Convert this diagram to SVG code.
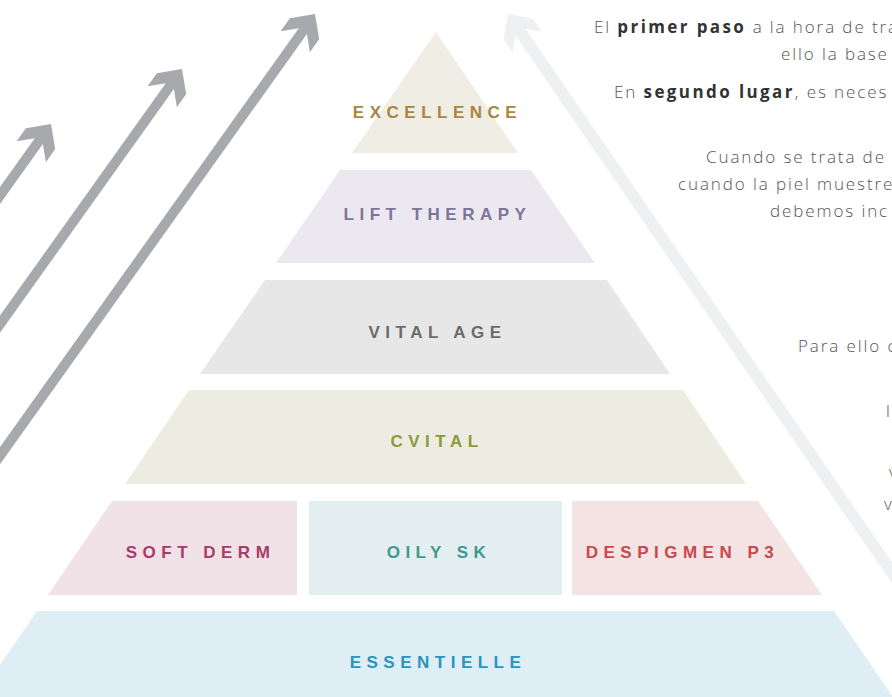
<svg xmlns="http://www.w3.org/2000/svg" width="892" height="697" viewBox="0 0 892 697">
<style>
.lbl{font-family:"Liberation Sans",Arial,sans-serif;font-weight:bold;font-size:17px;letter-spacing:5.5px;text-anchor:middle}
.body{font-family:"Open Sans","Noto Sans",sans-serif;font-weight:300;font-size:17px;letter-spacing:1.9px;fill:#555557}
.body tspan.b{font-weight:bold;fill:#333335;letter-spacing:2.4px}
.garrow{fill:#A7A9AC}
.larrow{fill:#EFF0F2}
</style>
<defs>
<path id="arr" d="M0,0 L18,18 L18,34 L5,21 L5,700 L-5,700 L-5,21 L-18,34 L-18,18 Z"/>
<path id="arrL" d="M0,0 L18,18 L18,34 L6,22 L6,700 L-6,700 L-6,22 L-18,34 L-18,18 Z"/>
<clipPath id="c1"><rect x="-30" y="-5" width="60" height="590"/></clipPath>
<clipPath id="c2"><rect x="-30" y="-5" width="60" height="350"/></clipPath>
<clipPath id="c3"><rect x="-30" y="-5" width="60" height="140"/></clipPath>
</defs>
<rect width="892" height="697" fill="#FFFFFF"/>
<g id="arrows">
<g transform="translate(315,14) rotate(35.5)" clip-path="url(#c1)"><use href="#arr" class="garrow"/></g>
<g transform="translate(182,69) rotate(35.5)" clip-path="url(#c2)"><use href="#arr" class="garrow"/></g>
<g transform="translate(51,124) rotate(35.5)" clip-path="url(#c3)"><use href="#arr" class="garrow"/></g>
<g transform="translate(508,14) rotate(-34.5)"><use href="#arrL" class="larrow"/></g>
</g>
<g id="excellence">
<path d="M436,32 L518,153 L352,153 Z" fill="#F0EDE4"/>
<text class="lbl" x="437.5" y="117.5" fill="#A7873F">EXCELLENCE</text>
</g>
<g id="lift-therapy">
<path d="M340,170 L531,170 L595,263 L276,263 Z" fill="#EBE9EF"/>
<text class="lbl" x="437.5" y="220" fill="#7D7499">LIFT THERAPY</text>
</g>
<g id="vital-age">
<path d="M265,280 L607,280 L670,374 L200,374 Z" fill="#E7E7E8"/>
<text class="lbl" x="437.5" y="338" fill="#6B6B6D">VITAL AGE</text>
</g>
<g id="cvital">
<path d="M189,390 L683,390 L746,484 L125,484 Z" fill="#ECECE2"/>
<text class="lbl" x="437" y="447" fill="#8B9B3B">CVITAL</text>
</g>
<g id="soft-derm">
<path d="M112,501 L297,501 L297,595 L48,595 Z" fill="#F1E2E8"/>
<text class="lbl" x="200.5" y="558" fill="#A83C68">SOFT DERM</text>
</g>
<g id="oily-sk">
<rect x="309" y="501" width="253" height="94" fill="#E2EEEF"/>
<text class="lbl" x="439" y="558" fill="#3E9A90">OILY SK</text>
</g>
<g id="despigmen-p3">
<path d="M572,501 L758,501 L822,595 L572,595 Z" fill="#F4E3E3"/>
<text class="lbl" x="682.5" y="558" fill="#C9474D">DESPIGMEN P3</text>
</g>
<g id="essentielle">
<path d="M37,611 L834,611 L893,697 L-22,697 Z" fill="#DFEDF4"/>
<text class="lbl" x="438" y="668" fill="#2B93BF">ESSENTIELLE</text>
</g>
<g id="text">
<text class="body" x="594" y="33">El <tspan class="b">primer paso</tspan> a la hora de tra</text>
<text class="body" x="781" y="60">ello la base</text>
<text class="body" x="614" y="98">En <tspan class="b">segundo lugar</tspan>, es neces</text>
<text class="body" x="706" y="163">Cuando se trata de</text>
<text class="body" x="678" y="190">cuando la piel muestre</text>
<text class="body" x="770" y="217">debemos inc</text>
<text class="body" x="798" y="352">Para ello c</text>
<text class="body" x="886" y="417">l</text>
<text class="body" x="889" y="478">v</text>
<text class="body" x="884" y="510">v</text>
</g>
</svg>
